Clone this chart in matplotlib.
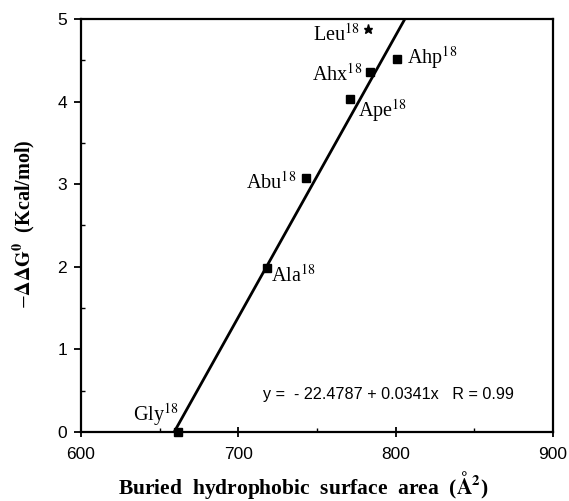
import matplotlib
matplotlib.use('Agg')
import matplotlib.pyplot as plt
from matplotlib.ticker import MultipleLocator

# data
names = ['Gly', 'Ala', 'Abu', 'Ape', 'Ahx', 'Ahp']
area = [661.5, 718, 743, 771, 783.5, 801]
ddg = [0.0, 1.98, 3.07, 4.03, 4.36, 4.51]
leu_area = [782.5]
leu_ddg = [4.88]

# fit reported on the chart
intercept = -22.4787
slope = 0.0341

# label offsets in pixels: (dx, dy, ha)
offsets = {
    'Gly': (1, 17, 'right'),
    'Ala': (4, -7, 'left'),
    'Abu': (-10, -4, 'right'),
    'Ape': (8, -11, 'left'),
    'Ahx': (-7, -3, 'right'),
    'Ahp': (10, 2, 'left'),
    'Leu': (-8, -6, 'right'),
}

plt.rcParams['mathtext.fontset'] = 'stix'
serif = 'Liberation Serif'
sans = 'Liberation Sans'

fig = plt.figure(figsize=(5.69, 5.01), dpi=100)
ax = fig.add_axes([0.1424, 0.1377, 0.8296, 0.8245])

# regression line, from y=0 to y=5
x0 = (0 - intercept) / slope
x1 = (5 - intercept) / slope
ax.plot([x0, x1], [intercept + slope * x0, intercept + slope * x1], color='black', lw=2, zorder=2)

ax.plot(area, ddg, 's', color='black', ms=5.5, zorder=3, clip_on=False)
ax.plot(leu_area, leu_ddg, '*', color='black', ms=6.5, zorder=3)

for n, xv, yv in zip(names + ['Leu'], area + leu_area, ddg + leu_ddg):
    dx, dy, ha = offsets[n]
    ax.annotate(n + r'$^{18}$', (xv, yv), xytext=(dx, dy), textcoords='offset pixels',
                ha=ha, va='center', fontsize=14.5, family=serif)

ax.text(715.5, 0.45, 'y =  - 22.4787 + 0.0341x   R = 0.99', fontsize=11.6, family=sans,
        va='center', ha='left')

ax.set_xlim(600, 900)
ax.set_ylim(0, 5)
ax.xaxis.set_major_locator(MultipleLocator(100))
ax.xaxis.set_minor_locator(MultipleLocator(50))
ax.yaxis.set_major_locator(MultipleLocator(1))
ax.yaxis.set_minor_locator(MultipleLocator(0.5))
ax.tick_params(axis='x', which='major', direction='inout', length=7, width=1.3, pad=7)
ax.tick_params(axis='x', which='minor', direction='in', length=3, width=1)
ax.tick_params(axis='y', which='major', direction='out', length=5, width=1.3, pad=5)
ax.tick_params(axis='y', which='minor', direction='in', length=3, width=1)
for lab in ax.get_xticklabels() + ax.get_yticklabels():
    lab.set_family(sans)
    lab.set_fontsize(12.5)
for s in ax.spines.values():
    s.set_linewidth(1.6)

ax.set_xlabel(r'Buried  hydrophobic  surface  area  ($\mathbf{\AA^2}$)', fontsize=15.5,
              family=serif, fontweight='bold', va='center')
ax.xaxis.set_label_coords(0.472, -0.128)
ax.set_ylabel(r'$-\mathbf{\Delta\Delta G^0}$  (Kcal/mol)', fontsize=14.5, family=serif,
              fontweight='bold', va='center')
ax.yaxis.set_label_coords(-0.121, 0.502)

fig.savefig('out.png', dpi=100)
